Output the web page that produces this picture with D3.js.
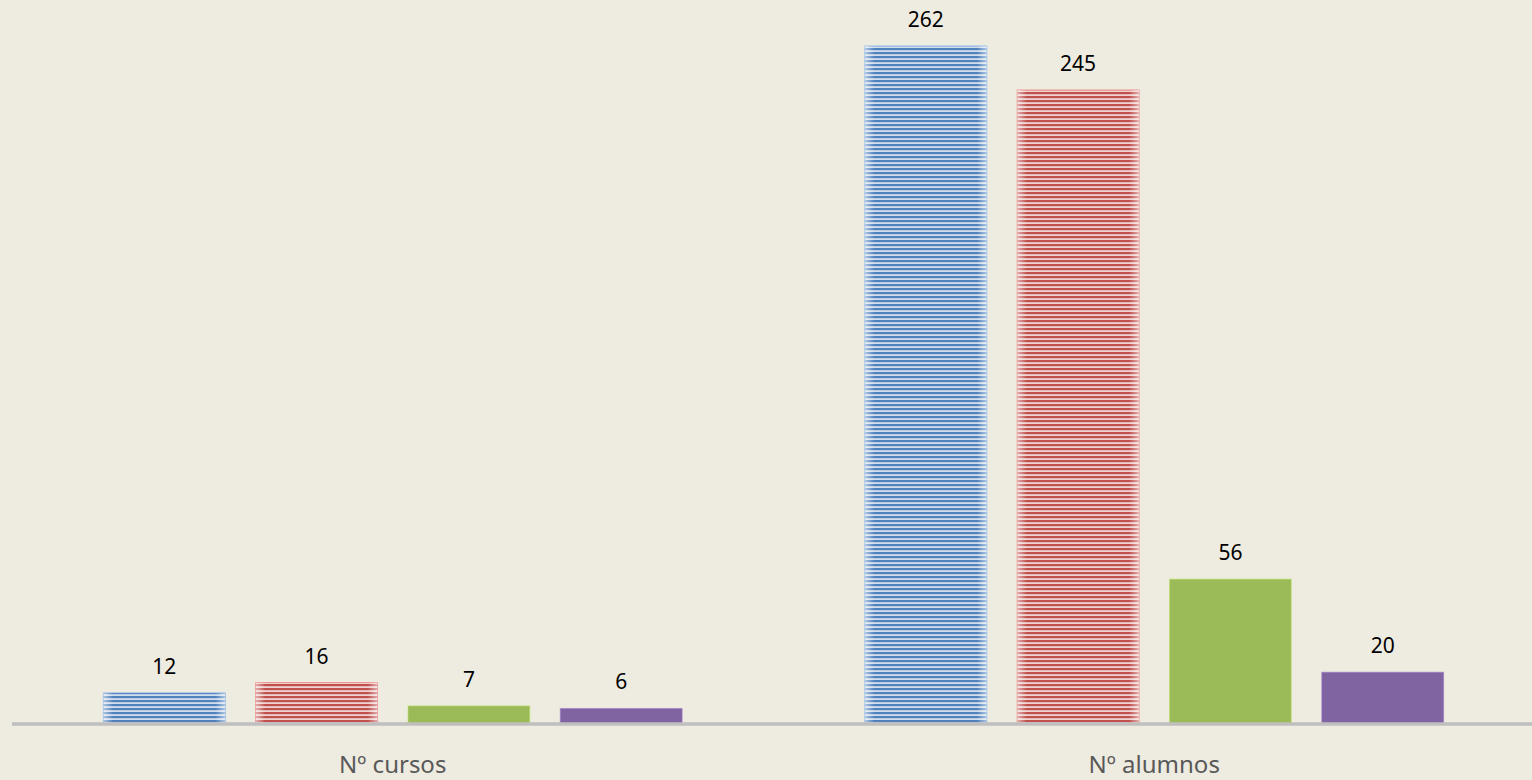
<!DOCTYPE html>
<html>
<head>
<meta charset="utf-8">
<script src="https://cdn.jsdelivr.net/npm/d3@7"></script>
<style>
  body { margin: 0; background: #EEEBE0; }
  svg { display: block; }
</style>
</head>
<body>
<div id="chart"></div>
<script>
// chart data
const categories = ["Nº cursos", "Nº alumnos"]
const seriesNames = ["s1", "s2", "s3", "s4"]
const values = [
  [12, 16, 7, 6],
  [262, 245, 56, 20]
]
const colors = ["#4F81BD", "#C0504D", "#9BBB59", "#8064A2"]
const lightColors = ["#D3DEEC", "#EFD3D2", null, null]

const w = 1532
const h = 780
const left = 12, right = 1535, baseY = 724
const font = "'Noto Sans', sans-serif"

const svg = d3.select("#chart").append("svg")
  .attr("width", w)
  .attr("height", h)

const defs = svg.append("defs")

// striped fills for first two series
colors.forEach((c, i) => {
  if (!lightColors[i]) return
  const p = defs.append("pattern")
    .attr("id", "stripe" + i)
    .attr("patternUnits", "userSpaceOnUse")
    .attr("width", 8).attr("height", 4)
  p.append("rect").attr("width", 8).attr("height", 4).attr("fill", lightColors[i])
  p.append("rect").attr("width", 8).attr("height", 2.2).attr("fill", c)
})

// soft edge glow
const g = defs.append("linearGradient").attr("id", "edge")
  .attr("x1", "0%").attr("x2", "100%")
g.append("stop").attr("offset", "0%").attr("stop-color", "#fff").attr("stop-opacity", 0.55)
g.append("stop").attr("offset", "8%").attr("stop-color", "#fff").attr("stop-opacity", 0)
g.append("stop").attr("offset", "92%").attr("stop-color", "#fff").attr("stop-opacity", 0)
g.append("stop").attr("offset", "100%").attr("stop-color", "#fff").attr("stop-opacity", 0.55)

const x0 = d3.scaleBand()
  .domain(categories)
  .range([left, right])

const x1 = d3.scaleBand()
  .domain(seriesNames)
  .range([0, x0.bandwidth()])
  .paddingInner(0.2)
  .paddingOuter(0.6)

const y = d3.scaleLinear()
  .domain([0, 262])
  .range([baseY, 46])

const groups = svg.selectAll("g.cat")
  .data(categories)
  .enter()
  .append("g")
  .attr("class", "cat")
  .attr("transform", d => "translate(" + x0(d) + ",0)")

groups.each(function (cat, ci) {
  const grp = d3.select(this)
  const rows = values[ci].map((v, si) => ({ v, si }))

  grp.selectAll("rect.bar")
    .data(rows)
    .enter()
    .append("rect")
    .attr("class", "bar")
    .attr("x", d => x1(seriesNames[d.si]))
    .attr("y", d => y(d.v))
    .attr("width", x1.bandwidth())
    .attr("height", d => baseY - y(d.v))
    .attr("fill", d => lightColors[d.si] ? "url(#stripe" + d.si + ")" : colors[d.si])
    .attr("stroke", d => d3.color(colors[d.si]).brighter(0.6))
    .attr("stroke-opacity", 0.6)
    .attr("stroke-width", 1)

  grp.selectAll("rect.glow")
    .data(rows.filter(d => lightColors[d.si]))
    .enter()
    .append("rect")
    .attr("class", "glow")
    .attr("x", d => x1(seriesNames[d.si]))
    .attr("y", d => y(d.v))
    .attr("width", x1.bandwidth())
    .attr("height", d => baseY - y(d.v))
    .attr("fill", "url(#edge)")

  grp.selectAll("text.val")
    .data(rows)
    .enter()
    .append("text")
    .attr("class", "val")
    .attr("x", d => x1(seriesNames[d.si]) + x1.bandwidth() / 2)
    .attr("y", d => y(d.v) - 19)
    .attr("text-anchor", "middle")
    .attr("font-family", font)
    .attr("font-size", 21)
    .attr("fill", "#000")
    .text(d => d.v)
})

// baseline axis, drawn over the bar bottoms
svg.append("line")
  .attr("x1", left).attr("x2", w)
  .attr("y1", baseY).attr("y2", baseY)
  .attr("stroke", "#BFBFBF")
  .attr("stroke-width", 3.5)

// category labels
svg.selectAll("text.cat")
  .data(categories)
  .enter()
  .append("text")
  .attr("class", "cat")
  .attr("x", d => x0(d) + x0.bandwidth() / 2)
  .attr("y", 773)
  .attr("text-anchor", "middle")
  .attr("font-family", font)
  .attr("font-size", 24)
  .attr("fill", "#595959")
  .text(d => d)
</script>
</body>
</html>
